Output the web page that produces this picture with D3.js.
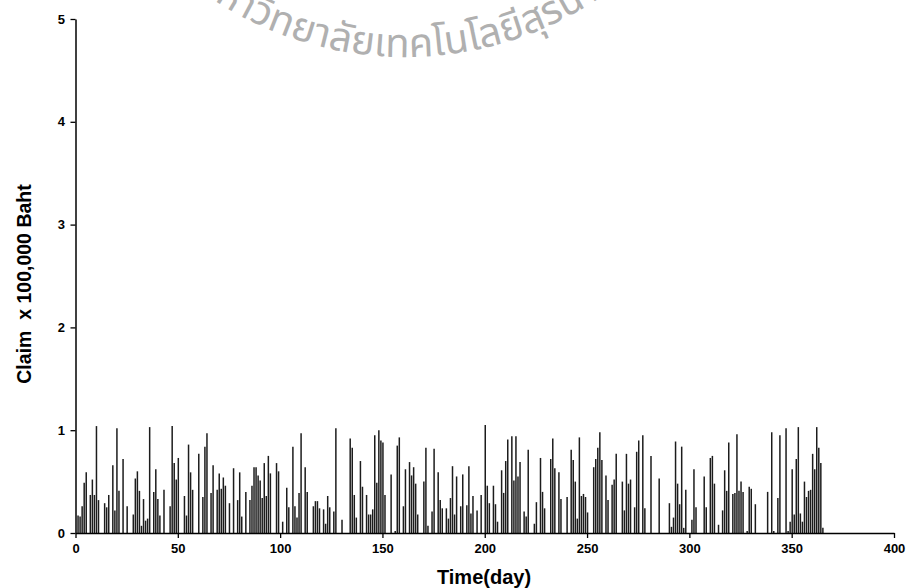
<!DOCTYPE html>
<html>
<head>
<meta charset="utf-8">
<script src="https://d3js.org/d3.v7.min.js"></script>
<style>
  body { margin: 0; background: #fff; }
  text { font-family: "Liberation Sans", Arial, sans-serif; }
</style>
</head>
<body>
<svg width="910" height="588"></svg>
<script>
// daily claims (x 100,000 Baht); days without a bar are zero
const days = [1,2,3,4,5,7,8,9,10,11,14,15,16,18,19,20,21,23,25,28,29,30,31,32,33,34,35,36,38,39,40,41,43,46,47,48,49,50,
  53,54,55,56,57,60,62,63,64,66,67,69,70,71,72,73,75,77,79,80,81,83,85,86,87,88,89,90,91,92,93,94,95,98,99,
  101,103,104,106,107,108,109,110,112,113,116,117,118,119,121,122,123,124,126,127,130,134,135,136,137,139,140,
  142,143,144,145,146,147,148,149,150,151,154,156,157,158,160,161,163,164,165,166,167,170,171,172,174,175,177,
  178,179,181,182,183,184,185,186,188,189,191,192,193,194,196,198,200,201,202,204,205,206,208,209,210,211,213,
  214,215,216,217,219,220,221,224,225,227,228,229,232,233,234,236,237,240,242,243,244,245,246,247,248,249,250,
  253,254,255,256,257,259,260,262,263,264,267,268,269,270,271,273,274,275,277,278,281,285,290,291,292,293,294,
  295,296,297,298,301,302,303,307,308,310,311,312,314,316,317,318,319,321,322,323,324,325,326,328,329,330,332,
  338,340,341,343,344,347,348,349,350,351,352,353,354,355,356,357,358,359,360,361,362,363,364,365];
const claims = [0.17,0.16,0.26,0.49,0.59,0.37,0.52,0.37,1.04,0.32,0.29,0.25,0.37,0.66,0.22,1.02,0.41,0.72,0.26,0.18,0.53,0.60,0.41,0.07,0.33,0.12,0.14,1.03,0.40,0.62,0.33,0.17,0.42,0.26,1.04,0.68,0.52,0.73,
  0.36,0.17,0.86,0.59,0.42,0.77,0.35,0.84,0.97,0.39,0.66,0.42,0.58,0.43,0.54,0.46,0.29,0.63,0.32,0.59,0.16,0.40,0.32,0.46,0.64,0.64,0.56,0.51,0.34,0.68,0.36,0.75,0.58,0.68,0.60,
  0.11,0.44,0.25,0.84,0.26,0.15,0.39,0.97,0.64,0.40,0.26,0.31,0.31,0.24,0.23,0.09,0.36,0.25,0.21,1.02,0.13,0.92,0.83,0.37,0.15,0.70,0.45,
  0.37,0.18,0.18,0.23,0.95,0.49,1.00,0.90,0.88,0.37,0.57,0.02,0.85,0.93,0.26,0.62,0.69,0.56,0.64,0.48,0.18,0.50,0.83,0.07,0.21,0.82,0.59,
  0.32,0.24,0.24,0.14,0.34,0.65,0.18,0.55,0.26,0.57,0.27,0.65,0.19,0.36,0.22,0.37,1.05,0.46,0.29,0.46,0.28,0.11,0.61,0.39,0.70,0.91,0.94,
  0.51,0.94,0.55,0.69,0.21,0.16,0.81,0.09,0.30,0.73,0.40,0.24,0.72,0.92,0.63,0.59,0.33,0.35,0.81,0.71,0.50,0.14,0.93,0.36,0.38,0.35,0.20,
  0.64,0.72,0.83,0.98,0.71,0.56,0.32,0.47,0.52,0.77,0.50,0.22,0.77,0.48,0.52,0.25,0.79,0.90,0.95,0.24,0.75,0.53,0.29,0.06,0.15,0.89,0.48,
  0.28,0.84,0.05,0.42,0.13,0.62,0.25,0.55,0.25,0.73,0.75,0.48,0.08,0.22,0.61,0.41,0.88,0.38,0.39,0.96,0.41,0.50,0.40,0.02,0.45,0.43,0.28,
  0.40,0.98,0.02,0.34,0.95,1.02,0.02,0.11,0.62,0.18,0.72,1.03,0.19,0.11,0.50,0.35,0.41,0.42,0.77,0.62,1.03,0.83,0.68,0.05];
const xTicks = [0, 50, 100, 150, 200, 250, 300, 350, 400];
const yTicks = [0, 1, 2, 3, 4, 5];
const watermark = "มหาวิทยาลัยเทคโนโลยีสุรนารี";

const svg = d3.select("svg");
const x = d3.scaleLinear().domain([0, 400]).range([75.5, 894]);
const y = d3.scaleLinear().domain([0, 5]).range([533, 19]);

// watermark along an arc (partly above the page, as in the scan)
const cx = 405, cy = -293, r = 350, a = 70 * Math.PI / 180;
svg.append("defs").append("path")
    .attr("id", "wm")
    .attr("d", `M${cx - r * Math.sin(a)},${cy + r * Math.cos(a)} A${r},${r} 0 0 0 ${cx + r * Math.sin(a)},${cy + r * Math.cos(a)}`);
svg.append("text")
    .attr("fill", "#b0b0b0")
    .style("font-size", "40px")
    .style("font-family", "'Noto Sans Thai', 'Noto Sans', 'DejaVu Sans', sans-serif")
  .append("textPath")
    .attr("href", "#wm")
    .attr("startOffset", "50%")
    .attr("text-anchor", "middle")
    .text(watermark);

// spikes
svg.append("g")
  .selectAll("line")
  .data(d3.zip(days, claims))
  .join("line")
    .attr("x1", d => x(d[0]) + 0.5)
    .attr("x2", d => x(d[0]) + 0.5)
    .attr("y1", y(0))
    .attr("y2", d => y(d[1]))
    .attr("stroke", "#1c1c1c")
    .attr("stroke-width", 1.5);

// axes
const gx = svg.append("g").attr("transform", `translate(0,${y(0)})`);
gx.call(d3.axisBottom(x).tickValues(d3.range(0, 401, 10)).tickSize(3).tickFormat("").tickSizeOuter(0));
gx.call(d3.axisBottom(x).tickValues(xTicks).tickSize(5).tickSizeOuter(0));
const gy = svg.append("g").attr("transform", `translate(${x(0)},0)`);
gy.call(d3.axisLeft(y).tickValues(d3.range(0, 5.01, 0.5)).tickSize(3).tickFormat("").tickSizeOuter(0));
gy.call(d3.axisLeft(y).tickValues(yTicks).tickSize(5).tickFormat(d3.format("d")).tickSizeOuter(0));

svg.selectAll(".domain").attr("stroke", "#000").attr("stroke-width", 1.5);
svg.selectAll(".tick line").attr("stroke", "#000").attr("stroke-width", 1.3);
svg.selectAll(".tick text")
    .attr("fill", "#000")
    .style("font-size", "13px")
    .style("font-weight", "bold")
    .style("font-family", "'Liberation Sans', Arial, sans-serif");
gx.selectAll(".tick text").attr("dy", "0.9em");
gy.selectAll(".tick text").attr("dx", "-0.2em");

svg.append("text")
    .attr("x", 484).attr("y", 584)
    .attr("text-anchor", "middle")
    .style("font-size", "20px").style("font-weight", "bold")
    .text("Time(day)");
svg.append("text")
    .attr("transform", "translate(31,284) rotate(-90)")
    .attr("text-anchor", "middle")
    .style("font-size", "19.5px").style("font-weight", "bold")
    .style("white-space", "pre")
    .text("Claim  x 100,000 Baht");
</script>
</body>
</html>
